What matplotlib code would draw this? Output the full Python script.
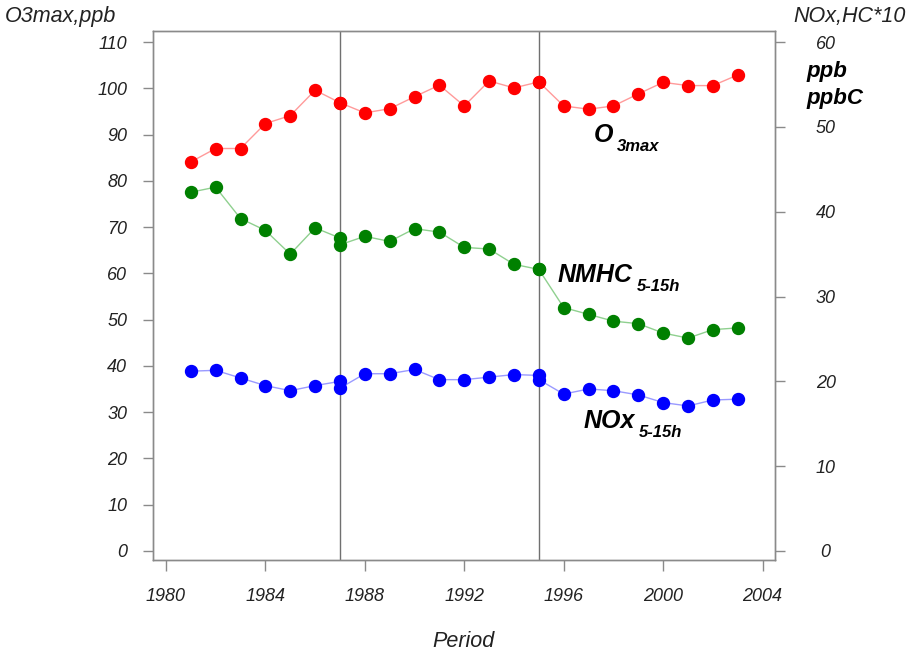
import matplotlib
matplotlib.use("Agg")
import matplotlib.pyplot as plt

plt.rcParams["font.family"] = ["Liberation Sans", "DejaVu Sans"]

# Years (1987 and 1995 appear twice: network/method changes)
years = [1981, 1982, 1983, 1984, 1985, 1986, 1987, 1987, 1988, 1989, 1990,
         1991, 1992, 1993, 1994, 1995, 1995, 1996, 1997, 1998, 1999, 2000,
         2001, 2002, 2003]

# Ozone maximum, ppb (left axis)
o3max = [84.1, 87.0, 87.0, 92.4, 94.1, 99.6, 96.9, 96.9, 94.7, 95.6, 98.2,
         100.7, 96.2, 101.6, 100.1, 101.4, 101.4, 96.2, 95.5, 96.2, 98.8, 101.3,
         100.6, 100.6, 102.9]

# NMHC 5-15h, ppbC / 10 (right axis)
nmhc = [42.3, 42.9, 39.2, 37.8, 35.0, 38.1, 36.9, 36.1, 37.1, 36.5, 38.0,
        37.6, 35.8, 35.6, 33.8, 33.2, 33.2, 28.7, 27.9, 27.1, 26.8, 25.7,
        25.1, 26.1, 26.3]

# NOx 5-15h, ppb (right axis)
nox = [21.2, 21.3, 20.4, 19.5, 18.9, 19.5, 20.0, 19.2, 20.9, 20.9, 21.4,
       20.2, 20.2, 20.5, 20.8, 20.7, 20.2, 18.5, 19.1, 18.9, 18.4, 17.5,
       17.1, 17.8, 17.9]

break_years = [1987, 1995]
x_ticks = [1980, 1984, 1988, 1992, 1996, 2000, 2004]
left_ticks = list(range(0, 111, 10))
right_ticks = list(range(0, 61, 10))

W, H = 918, 655
fig = plt.figure(figsize=(W / 100, H / 100), dpi=100)
ax = fig.add_axes([153 / W, 1 - 560 / H, (775 - 153) / W, (560 - 31) / H])
ax2 = ax.twinx()

left_lim = (-1.95, 112.4)
ax.set_ylim(*left_lim)
ax2.set_ylim(left_lim[0] * 60 / 110, left_lim[1] * 60 / 110)
ax.set_xlim(1979.48, 2004.5)

grey = "#8a8a8a"
for a in (ax, ax2):
    for s in a.spines.values():
        s.set_color(grey)
        s.set_linewidth(1.0)

for yr in break_years:
    ax.axvline(yr, color="#707070", lw=1.0, zorder=1)

ms = 8.6
ax.plot(years, o3max, color="#ff9a9a", lw=1.0, zorder=2)
ax.plot(years, o3max, ls="none", marker="o", ms=ms, color="#ff0000", zorder=3)
ax2.plot(years, nmhc, color="#8fd08f", lw=1.0, zorder=2)
ax2.plot(years, nmhc, ls="none", marker="o", ms=ms, color="#008000", zorder=3)
ax2.plot(years, nox, color="#9a9aff", lw=1.0, zorder=2)
ax2.plot(years, nox, ls="none", marker="o", ms=ms, color="#0000ff", zorder=3)

tick_font = dict(fontsize=13, style="italic", color="#222222")
ax.set_xticks(x_ticks)
ax.set_xticklabels([str(v) for v in x_ticks], **tick_font)
ax.set_yticks(left_ticks)
ax.set_yticklabels([str(v) for v in left_ticks], **tick_font)
ax2.set_yticks(right_ticks)
ax2.set_yticklabels([str(v) for v in right_ticks], ha="center", **tick_font)

ax.tick_params(axis="x", direction="out", length=8, width=1, color=grey, pad=12)
ax.tick_params(axis="y", direction="out", length=7.5, width=1, color=grey, pad=11)
ax2.tick_params(axis="y", direction="out", length=7.5, width=1, color=grey, pad=29)

# axis titles
lbl = dict(fontsize=15.5, style="italic", color="#222222")
fig.text(5 / W, 1 - 22 / H, "O3max,ppb", ha="left", va="baseline", **lbl)
fig.text(906 / W, 1 - 22 / H, "NOx,HC*10", ha="right", va="baseline", **lbl)
fig.text(463 / W, 1 - 647 / H, "Period", ha="center", va="baseline", **lbl)

unit = dict(fontsize=16, style="italic", weight="bold", color="black")
fig.text(806 / W, 1 - 77 / H, "ppb", ha="left", va="baseline", **unit)
fig.text(806 / W, 1 - 104 / H, "ppbC", ha="left", va="baseline", **unit)

# series labels with subscripts
big = dict(fontsize=18, style="italic", weight="bold", color="black")
small = dict(fontsize=12, style="italic", weight="bold", color="black")


def series_label(x, y, main, sub):
    t = ax.text(x, y, main, ha="left", va="baseline", zorder=4, **big)
    ax.annotate(sub, xy=(1, 0), xycoords=t, xytext=(3, -3),
                textcoords="offset points", ha="left", va="baseline", **small)


series_label(1997.2, 88.4, "O", "3max")
series_label(1995.75, 58.1, "NMHC", "5-15h")
series_label(1996.8, 26.6, "NOx", "5-15h")

fig.savefig("out.png", dpi=100)
